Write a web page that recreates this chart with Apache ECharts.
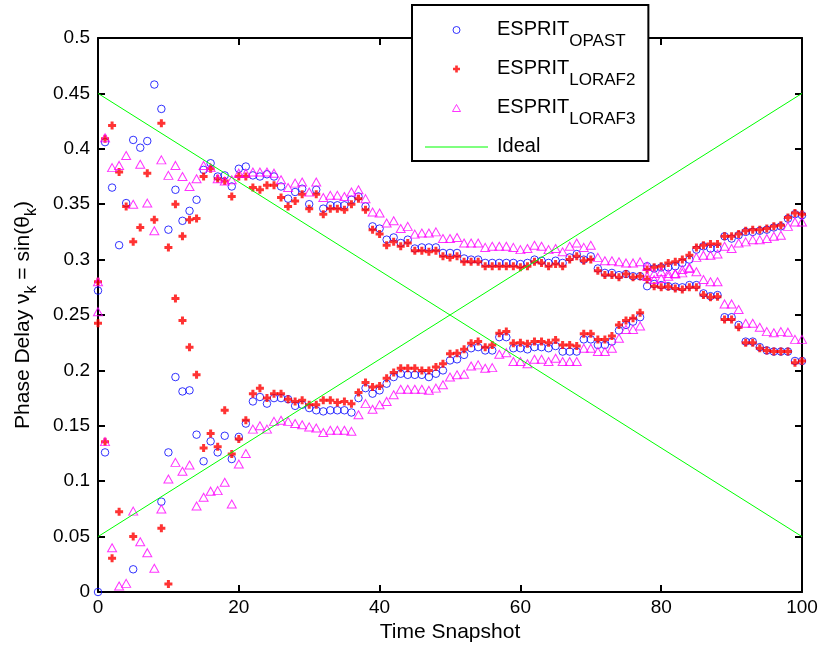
<!DOCTYPE html>
<html><head><meta charset="utf-8">
<script src="https://cdn.jsdelivr.net/npm/echarts@6/dist/echarts.min.js"></script>
<style>html,body{margin:0;padding:0;background:#fff}#c{width:822px;height:649px}</style>
</head><body><div id="c"></div>
<script>
// index of each array = time snapshot (0..100); null = estimate outside the plotted range
const xTicks = [0, 20, 40, 60, 80, 100];
const yTicks = [0, 0.05, 0.1, 0.15, 0.2, 0.25, 0.3, 0.35, 0.4, 0.45, 0.5];

const opastA = [0.272,0.406,0.365,0.313,0.351,0.408,0.401,0.407,0.458,0.436,
0.327,0.363,0.335,0.344,0.354,0.381,0.387,0.375,0.376,0.366,
0.382,0.384,0.376,0.375,0.377,0.375,0.366,0.355,0.361,0.364,
0.350,0.363,0.346,0.349,0.349,0.349,0.354,0.357,0.348,0.330,
0.328,0.318,0.320,0.315,0.318,0.310,0.311,0.311,0.311,0.306,
0.306,0.306,0.301,0.300,0.300,0.297,0.297,0.297,0.297,0.297,
0.296,0.297,0.300,0.299,0.297,0.299,0.297,0.302,0.305,0.300,
0.303,0.292,0.288,0.288,0.286,0.287,0.285,0.285,0.294,0.292,
0.293,0.293,0.294,0.297,0.300,0.309,0.312,0.310,0.310,0.321,
0.319,0.322,0.325,0.325,0.326,0.327,0.329,0.330,0.337,0.341,0.340];
const opastB = [0.0,0.126,null,null,null,0.0205,null,null,null,0.0815,
0.126,0.194,0.181,0.182,0.142,0.118,0.136,0.126,0.141,0.120,
0.140,0.152,0.172,0.176,0.170,0.175,0.175,0.174,0.168,0.169,
0.166,0.164,0.163,0.164,0.164,0.164,0.162,0.175,0.184,0.179,
0.182,0.188,0.194,0.197,0.196,0.196,0.196,0.194,0.197,0.200,
0.209,0.210,0.214,0.220,0.221,0.218,0.218,0.230,0.230,0.220,
0.220,0.219,0.221,0.221,0.220,0.222,0.217,0.217,0.217,0.228,
0.228,0.223,0.223,0.226,0.236,0.241,0.244,0.248,0.276,0.278,
0.277,0.276,0.2755,0.275,0.277,0.277,0.2695,0.267,0.268,0.248,
0.248,0.241,0.226,0.226,0.221,0.218,0.217,0.217,0.217,0.2085,0.2085];

const loraf2A = [0.280,0.409,0.421,0.379,0.348,0.316,0.329,0.378,0.336,0.423,
0.311,0.350,0.321,0.336,0.337,0.375,0.382,0.373,0.371,0.357,
0.375,0.375,0.365,0.363,0.367,0.367,0.356,0.348,0.353,0.359,
0.346,0.359,0.341,0.346,0.346,0.345,0.350,0.355,0.345,0.327,
0.323,0.313,0.316,0.312,0.315,0.308,0.308,0.307,0.308,0.303,
0.302,0.303,0.298,0.298,0.298,0.294,0.294,0.294,0.294,0.294,
0.293,0.294,0.298,0.297,0.294,0.296,0.294,0.300,0.303,0.299,
0.300,0.290,0.286,0.286,0.284,0.287,0.284,0.285,0.291,0.293,
0.294,0.297,0.298,0.300,0.304,0.311,0.313,0.314,0.314,0.321,
0.321,0.323,0.326,0.327,0.327,0.328,0.330,0.331,0.338,0.342,0.341];
const loraf2B = [0.2425,0.1357,0.0304,0.0725,null,0.050,null,null,null,0.0575,
0.0072,0.265,0.245,0.221,0.196,0.130,0.143,0.131,0.164,0.1245,
0.138,0.155,0.179,0.184,0.175,0.179,0.179,0.174,0.172,0.173,
0.169,0.169,0.173,0.173,0.171,0.172,0.170,0.180,0.189,0.185,
0.186,0.193,0.198,0.202,0.202,0.202,0.200,0.200,0.203,0.206,
0.215,0.2155,0.219,0.2245,0.226,0.221,0.223,0.2335,0.235,0.2245,
0.225,0.224,0.226,0.226,0.225,0.2275,0.223,0.223,0.222,0.233,
0.233,0.228,0.228,0.231,0.241,0.245,0.247,0.252,0.282,0.276,
0.275,0.2755,0.274,0.273,0.275,0.275,0.268,0.266,0.2665,0.246,
0.246,0.239,0.225,0.225,0.220,0.218,0.217,0.217,0.217,0.207,0.2085];

const loraf3A = [0.280,0.410,0.383,0.385,0.394,0.350,0.386,0.351,0.326,0.390,
0.376,0.385,0.375,0.366,0.373,0.385,0.383,0.373,0.371,0.372,
0.378,0.378,0.379,0.379,0.379,0.378,0.372,0.365,0.369,0.370,
0.361,0.370,0.356,0.358,0.358,0.357,0.361,0.363,0.355,0.343,
0.342,0.333,0.335,0.328,0.330,0.323,0.324,0.324,0.325,0.319,
0.319,0.320,0.315,0.315,0.315,0.311,0.312,0.312,0.312,0.311,
0.309,0.310,0.313,0.312,0.309,0.310,0.307,0.312,0.315,0.311,
0.313,0.302,0.299,0.299,0.298,0.297,0.297,0.298,0.294,0.2875,
0.289,0.2875,0.2875,0.291,0.293,0.302,0.304,0.304,0.305,0.312,
0.310,0.315,0.316,0.318,0.318,0.319,0.321,0.322,0.330,0.334,0.334];
const loraf3B = [0.253,0.1357,0.040,0.0054,0.0078,0.073,0.0454,0.0355,0.0214,0.0749,
0.102,0.117,0.109,0.1146,0.0776,0.0855,0.091,0.0915,0.099,0.0794,
0.1155,0.125,0.147,0.150,0.147,0.154,0.155,0.154,0.152,0.151,
0.149,0.148,0.144,0.146,0.146,0.146,0.145,0.160,0.170,0.165,
0.169,0.172,0.178,0.183,0.183,0.183,0.183,0.182,0.184,0.187,
0.194,0.196,0.1965,0.204,0.205,0.202,0.2025,0.2145,0.216,0.208,
0.208,0.206,0.210,0.210,0.208,0.211,0.208,0.208,0.208,0.220,
0.220,0.217,0.217,0.220,0.229,0.237,0.237,0.240,0.285,0.282,
0.283,0.285,0.287,0.288,0.292,0.289,0.282,0.280,0.280,0.260,
0.260,0.255,0.2425,0.2425,0.239,0.235,0.234,0.235,0.2345,0.228,0.228];

// Ideal trajectories: value at first and last snapshot
const idealX = [0, 100];
const ideal1 = [0.45, 0.05];
const ideal2 = [0.05, 0.45];

const font = 'Liberation Sans';
function pts(a, b) {
  const out = [];
  for (let t = 0; t < a.length; t++) {
    if (a[t] != null) out.push([t, a[t]]);
    if (b[t] != null) out.push([t, b[t]]);
  }
  return out;
}
const plusPath = 'path://M2.5,0H5.5V2.5H8V5.5H5.5V8H2.5V5.5H0V2.5H2.5Z';
const triPath = 'path://M4,0L8,7H0Z';
const linePath = 'path://M0,0H63V1.2H0Z';
const styles = {
  OPAST: {symbol: 'circle', size: 7.5, item: {color: 'rgba(0,0,0,0)', borderColor: '#0000ff', borderWidth: 1}},
  LORAF2: {symbol: plusPath, size: 8, item: {color: '#ff0000', borderWidth: 0}},
  LORAF3: {symbol: triPath, size: [9, 8], item: {color: 'rgba(0,0,0,0)', borderColor: '#ff00ff', borderWidth: 1}}
};
const subs = {OPAST: 'OPAST', LORAF2: 'LORAF2', LORAF3: 'LORAF3'};

const axisCommon = {
  type: 'value',
  axisLine: {show: true, onZero: false, lineStyle: {color: '#000', width: 2}},
  axisTick: {show: true, inside: true, length: 7, lineStyle: {color: '#000', width: 2}},
  splitLine: {show: false}
};
const labelStyle = {color: '#000', fontSize: 19, fontFamily: font};

const chart = echarts.init(document.getElementById('c'), null, {renderer: 'canvas'});
chart.setOption({
  animation: false,
  backgroundColor: '#fff',
  grid: {left: 98, right: 20, top: 38, bottom: 57},
  xAxis: [
    Object.assign({}, axisCommon, {min: xTicks[0], max: xTicks[xTicks.length - 1], interval: xTicks[1] - xTicks[0], position: 'bottom',
      axisLabel: Object.assign({margin: 6}, labelStyle),
      name: 'Time Snapshot', nameLocation: 'middle', nameGap: 30,
      nameTextStyle: {color: '#000', fontSize: 21, fontFamily: font}}),
    Object.assign({}, axisCommon, {min: xTicks[0], max: xTicks[xTicks.length - 1], interval: xTicks[1] - xTicks[0], position: 'top', axisLabel: {show: false}})
  ],
  yAxis: [
    Object.assign({}, axisCommon, {min: yTicks[0], max: yTicks[yTicks.length - 1], interval: yTicks[1] - yTicks[0], position: 'left',
      axisLabel: Object.assign({margin: 8, formatter: v => String(+v.toFixed(2))}, labelStyle),
      name: '{n|Phase Delay ν}{s|k}{n| = sin(θ}{s|k}{n|)}', nameLocation: 'middle', nameGap: 62, nameRotate: 90,
      nameTextStyle: {color: '#000', fontFamily: font, rich: {
        n: {fontSize: 21, lineHeight: 23, verticalAlign: 'top', fontFamily: font, color: '#000'},
        s: {fontSize: 16, lineHeight: 16, padding: [11, 0, 0, 0], verticalAlign: 'top', fontFamily: font, color: '#000'}
      }}}),
    Object.assign({}, axisCommon, {min: yTicks[0], max: yTicks[yTicks.length - 1], interval: yTicks[1] - yTicks[0], position: 'right', axisLabel: {show: false}})
  ],
  legend: {
    orient: 'vertical', left: 412, top: 5,
    padding: [14, 13, 5, 13], itemWidth: 63, itemHeight: 7, itemGap: 8,
    symbolKeepAspect: true,
    borderColor: '#000', borderWidth: 2, borderRadius: 0, backgroundColor: '#fff',
    data: [
      {name: 'OPAST', icon: 'circle', itemStyle: styles.OPAST.item},
      {name: 'LORAF2', icon: plusPath, itemStyle: styles.LORAF2.item},
      {name: 'LORAF3', icon: triPath, itemStyle: styles.LORAF3.item},
      {name: 'Ideal', icon: linePath, itemStyle: {color: '#00ff00', borderWidth: 0}}
    ],
    formatter: name => subs[name] ? '{b|ESPRIT}{s|' + subs[name] + '}' : '{b|' + name + '}',
    textStyle: {color: '#000', fontFamily: font, rich: {
      b: {fontSize: 20, lineHeight: 22, verticalAlign: 'top', padding: [0, 0, 0, 4], fontFamily: font, color: '#000'},
      s: {fontSize: 17, lineHeight: 17, padding: [14, 0, 0, 0], verticalAlign: 'top', fontFamily: font, color: '#000'}
    }}
  },
  series: [
    {name: 'OPAST', type: 'scatter', symbol: styles.OPAST.symbol, symbolSize: styles.OPAST.size, itemStyle: styles.OPAST.item, data: pts(opastA, opastB), z: 2},
    {name: 'LORAF2', type: 'scatter', symbol: styles.LORAF2.symbol, symbolSize: styles.LORAF2.size, itemStyle: styles.LORAF2.item, data: pts(loraf2A, loraf2B), z: 3},
    {name: 'LORAF3', type: 'scatter', symbol: styles.LORAF3.symbol, symbolSize: styles.LORAF3.size, itemStyle: styles.LORAF3.item, data: pts(loraf3A, loraf3B), z: 4},
    {name: 'Ideal', type: 'line', symbol: 'none', lineStyle: {color: '#00ff00', width: 1}, itemStyle: {color: '#00ff00'}, data: idealX.map((x, i) => [x, ideal1[i]]), z: 5},
    {name: 'Ideal', type: 'line', symbol: 'none', lineStyle: {color: '#00ff00', width: 1}, itemStyle: {color: '#00ff00'}, data: idealX.map((x, i) => [x, ideal2[i]]), z: 5}
  ]
});
</script></body></html>
